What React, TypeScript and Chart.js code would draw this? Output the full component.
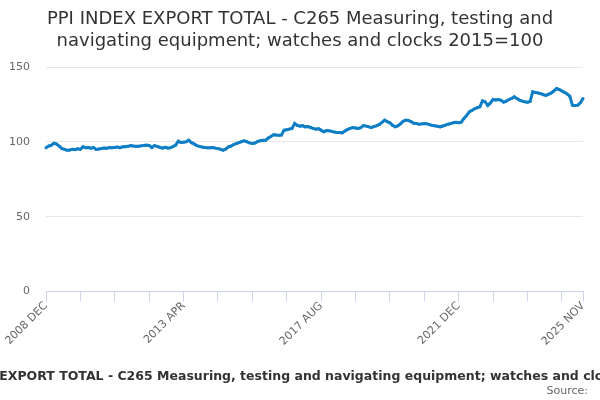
import { useEffect, useRef } from "react";
import { Chart, registerables, ChartConfiguration, Plugin } from "chart.js";

Chart.register(...registerables);

const seriesName =
  "PPI INDEX EXPORT TOTAL - C265 Measuring, testing and navigating equipment; watches and clocks 2015=100";
const titleLines = [
  "PPI INDEX EXPORT TOTAL - C265 Measuring, testing and",
  "navigating equipment; watches and clocks 2015=100",
];

const monthNames = ["JAN", "FEB", "MAR", "APR", "MAY", "JUN", "JUL", "AUG", "SEP", "OCT", "NOV", "DEC"];

// monthly index values, 2008 DEC .. 2025 NOV
const ppiValues = [
  96.0, 97.2, 97.8, 99.1, 98.5, 97.1, 95.5, 95.0, 94.4, 94.6, 95.1, 94.8,
  95.3, 95.0, 96.7, 96.0, 96.2, 95.8, 96.2, 94.9, 95.2, 95.5, 95.9, 95.7,
  96.2, 96.0, 96.3, 96.5, 96.1, 96.7, 96.7, 97.0, 97.5, 97.2, 97.0, 97.1,
  97.3, 97.5, 97.8, 97.6, 96.2, 97.5, 97.0, 96.4, 95.8, 96.3, 95.9, 96.0,
  96.8, 97.8, 100.4, 99.6, 99.8, 100.0, 101.1, 99.4, 98.6, 97.5, 97.0, 96.5,
  96.2, 96.0, 96.1, 96.2, 95.8, 95.5, 95.0, 94.4, 95.2, 96.7, 97.2, 98.2,
  98.9, 99.5, 100.2, 100.7, 100.0, 99.3, 98.9, 99.2, 100.3, 100.7, 101.1, 101.0,
  102.5, 103.5, 104.7, 104.5, 104.4, 104.5, 107.8, 108.0, 108.5, 108.9, 112.3, 111.0,
  110.5, 110.8, 110.0, 110.2, 109.6, 109.0, 108.5, 108.8, 107.8, 106.7, 107.5, 107.4,
  107.0, 106.5, 106.3, 106.2, 106.0, 107.2, 108.3, 109.0, 109.6, 109.3, 108.9, 109.5,
  110.9, 110.5, 110.0, 109.6, 110.2, 110.8, 111.6, 113.0, 114.5, 113.5, 112.7, 111.0,
  110.0, 110.7, 112.0, 113.8, 114.5, 114.3, 113.5, 112.5, 112.3, 111.8, 112.0, 112.3,
  112.0, 111.5, 110.9, 110.8, 110.4, 110.0, 110.6, 111.2, 111.8, 112.2, 112.8, 113.1,
  112.7, 113.2, 115.6, 117.5, 120.0, 121.0, 122.1, 122.8, 123.4, 127.4, 126.7, 124.3,
  126.0, 128.3, 128.0, 128.3, 127.8, 126.5, 127.2, 128.3, 129.0, 130.1, 129.0, 127.9,
  127.2, 126.8, 126.5, 127.0, 133.4, 133.0, 132.7, 132.2, 131.5, 131.0, 131.8, 132.7,
  134.0, 135.6, 135.0, 134.0, 133.1, 132.0, 130.5, 124.5, 124.3, 124.5, 126.1, 128.9,
];

// category labels, one per month starting 2008 DEC
const monthLabels = ppiValues.map((_, i) => {
  const m = 11 + i;
  return `${2008 + Math.floor(m / 12)} ${monthNames[m % 12]}`;
});

// tick marks every 13 months plus the last month, text only on some
const tickIndexes = [0, 13, 26, 39, 52, 65, 78, 91, 104, 117, 130, 143, 156, 169, 182, 195, 203];
const labelledIndexes = [0, 52, 104, 156, 203];

const yTicks = [0, 50, 100, 150];

const font = "DejaVu Sans";
const lineColor = "#0e7fc6";

const sourcePlugin: Plugin<"line"> = {
  id: "sourceText",
  afterDraw(chart) {
    const ctx = chart.ctx;
    ctx.save();
    ctx.font = `11px "${font}"`;
    ctx.fillStyle = "#666666";
    ctx.textAlign = "right";
    ctx.textBaseline = "middle";
    ctx.fillText("Source:", 588, 391);
    ctx.restore();
  },
};

const App = () => {
  const canvasRef = useRef<HTMLCanvasElement | null>(null);
  const chartRef = useRef<Chart<"line"> | null>(null);

  useEffect(() => {
    if (!canvasRef.current) return;
    const ctx = canvasRef.current.getContext("2d");
    if (!ctx) return;

    if (chartRef.current) {
      chartRef.current.destroy();
    }

    const config: ChartConfiguration<"line"> = {
      type: "line",
      data: {
        labels: monthLabels,
        datasets: [
          {
            label: seriesName,
            data: ppiValues,
            borderColor: lineColor,
            backgroundColor: lineColor,
            borderWidth: 3,
            pointRadius: 1.5,
            pointBorderWidth: 0,
            pointBackgroundColor: lineColor,
            tension: 0,
          },
        ],
      },
      options: {
        responsive: true,
        maintainAspectRatio: false,
        animation: false,
        layout: { padding: { left: 0, right: 0, top: 0, bottom: 7 } },
        plugins: {
          title: {
            display: true,
            text: titleLines,
            color: "#333333",
            font: { family: font, size: 18, weight: "normal", lineHeight: 1.25 },
            padding: { top: 8, bottom: 14 },
          },
          legend: {
            display: true,
            position: "bottom",
            labels: {
              color: "#333333",
              font: { family: font, size: 12.5, weight: "bold" },
              boxWidth: 20,
              boxHeight: 3,
              padding: 8,
            },
          },
          tooltip: { enabled: false },
        },
        scales: {
          x: {
            type: "category",
            grid: {
              drawOnChartArea: false,
              drawTicks: true,
              tickLength: 10,
              tickColor: "#ccd6eb",
            },
            border: { display: true, color: "#ccd6eb" },
            afterBuildTicks: (scale) => {
              scale.ticks = tickIndexes.map((v) => ({ value: v }));
            },
            afterFit: (scale) => {
              scale.height = 71;
            },
            ticks: {
              autoSkip: false,
              minRotation: 45,
              maxRotation: 45,
              color: "#666666",
              font: { family: font, size: 11 },
              padding: -2,
              callback: (value) =>
                labelledIndexes.includes(Number(value)) ? monthLabels[Number(value)] : "",
            },
          },
          y: {
            min: 0,
            max: 150,
            afterFit: (scale) => {
              scale.width = 46;
            },
            afterBuildTicks: (scale) => {
              scale.ticks = yTicks.map((v) => ({ value: v }));
            },
            grid: {
              color: "#e6e6e6",
              drawTicks: false,
            },
            border: { display: false },
            ticks: {
              color: "#666666",
              font: { family: font, size: 11 },
              padding: 16,
            },
          },
          // empty right-hand margin so the plot ends where the reference does
          yRight: {
            position: "right",
            min: 0,
            max: 150,
            afterFit: (scale) => {
              scale.width = 17;
            },
            grid: { drawOnChartArea: false, drawTicks: false },
            border: { display: false },
            ticks: { display: false },
          },
        },
      },
      plugins: [sourcePlugin],
    };

    chartRef.current = new Chart(ctx, config);

    return () => {
      if (chartRef.current) {
        chartRef.current.destroy();
        chartRef.current = null;
      }
    };
  }, []);

  return (
    <div style={{ position: "absolute", left: 0, top: 0, width: 600, height: 400 }}>
      <canvas ref={canvasRef}></canvas>
    </div>
  );
};

export default App;
